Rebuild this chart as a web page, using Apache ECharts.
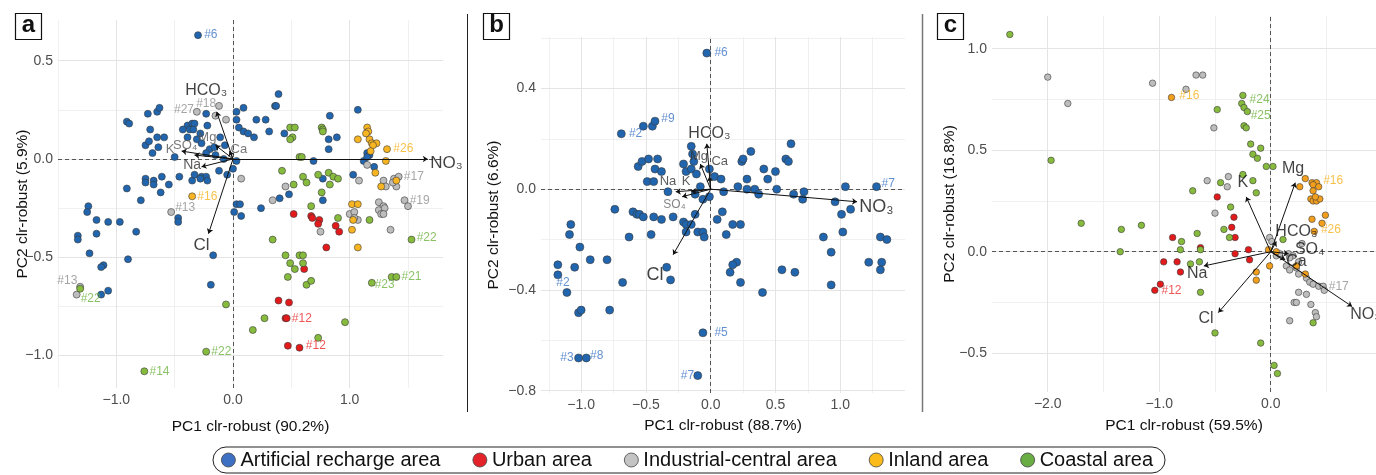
<!DOCTYPE html>
<html><head><meta charset="utf-8">
<script src="https://cdn.jsdelivr.net/npm/echarts@6/dist/echarts.min.js"></script>
<style>html,body{margin:0;padding:0;background:#fff}#chart{width:1376px;height:475px}</style>
</head><body><div id="chart"></div>
<script>
const GROUPS = ['Artificial recharge area', 'Urban area', 'Industrial-central area', 'Inland area', 'Coastal area'];

// ---------- Panel a ----------
const aArtificial = [
[-0.30,0.63],[0.39,0.33],[0.36,0.27],[0.37,0.27],[1.07,0.25],[0.83,0.22],[0.09,0.26],[0.03,0.24],[0.03,0.20],[0.05,0.16],[0.09,0.14],[0.13,0.13],[0.18,0.11],[0.20,0.20],[0.28,0.20],[0.31,0.14],[0.44,0.13],[0.82,0.10],[0.89,0.11],[0.82,0.05],[0.69,-0.01],[1.15,0.03],[1.17,0.02],[1.12,-0.01],[1.15,0.01],[1.21,-0.04],[1.03,-0.08],[0.77,-0.10],[0.48,-0.18],[0.40,-0.20],[0.77,-0.21],
[-0.91,0.19],[-0.89,0.18],[-0.73,0.23],[-0.65,0.24],[-0.63,0.26],[-0.71,0.15],[-0.75,0.07],[-0.72,0.09],[-0.69,0.03],[-0.65,0.11],[-0.59,0.11],[-0.64,0.06],[-0.50,0.01],[-0.39,0.17],[-0.35,0.18],[-0.37,0.15],[-0.33,0.18],[-0.34,0.15],[-0.43,0.15],[-0.22,0.17],[-0.23,0.23],[-0.28,0.13],[-0.39,0.11],[-0.31,0.10],[-0.27,0.08],[-0.20,0.05],[-0.23,0.03],[-0.16,0.06],[-0.07,0.07],[-0.11,0.11],[-0.15,0.02],[-0.08,0.00],
[-0.75,-0.10],[-0.68,-0.11],[-0.68,-0.13],[-0.61,-0.09],[-0.55,-0.13],[-0.75,-0.12],[-0.62,-0.17],[-0.79,-0.21],[-0.91,-0.15],[-0.46,-0.09],[-0.35,-0.11],[-0.33,-0.08],[-0.27,-0.09],[-0.23,-0.09],[-0.28,-0.10],[-0.22,-0.11],[-0.12,-0.06],[-0.05,-0.08],[0.00,-0.05],[0.03,-0.01],
[0.03,-0.23],[0.06,-0.23],[0.01,-0.27],[0.07,-0.29],[0.24,-0.25],[-0.47,-0.30],[-0.47,-0.32],[-0.83,-0.37],[-0.97,-0.32],[-1.07,-0.32],
[-1.24,-0.24],[-1.25,-0.27],[-1.17,-0.31],[-1.17,-0.38],[-1.33,-0.39],[-1.33,-0.41],[-1.23,-0.48],[-0.90,-0.51],[-1.11,-0.54],[-1.13,-0.55],[-1.07,-0.67],[-1.13,-0.69],[-0.17,-0.49],[-0.19,-0.64]
];
const aUrban = [[0.52,-0.28],[0.67,-0.29],[0.68,-0.30],[0.74,-0.31],[0.73,-0.33],[0.88,-0.34],[0.91,-0.37],[0.80,-0.45],[0.61,-0.56],[0.39,-0.72],[0.48,-0.73],[0.45,-0.81],[0.46,-0.81],[0.47,-0.95],[0.57,-0.96]];
const aIndustrial = [[-0.31,0.24],[-0.12,0.27],[-0.15,0.22],[-0.06,0.20],[0.07,-0.10],[0.45,-0.14],[0.34,-0.21],[-0.53,-0.27],[0.75,-0.37],[1.15,-0.03],[1.08,-0.11],[1.29,-0.11],[1.31,-0.14],[1.38,-0.10],[1.42,-0.09],[1.40,-0.14],[1.37,-0.12],[1.47,-0.21],[1.50,-0.24],[1.25,-0.22],[1.29,-0.24],[1.25,-0.26],[1.30,-0.25],[1.27,-0.28],[1.29,-0.28],[1.00,-0.28],[1.04,-0.27],[1.07,-0.31],[1.04,-0.30],[1.35,-0.36],[-1.34,-0.69],[-1.31,-0.65]];
const aInland = [[1.15,0.16],[1.16,0.14],[1.14,0.13],[1.17,0.10],[1.07,0.10],[1.19,0.08],[1.23,0.08],[1.20,0.07],[1.18,0.04],[1.32,0.05],[1.31,-0.01],[1.22,-0.07],[1.27,-0.14],[1.40,-0.11],[1.02,-0.23],[1.07,-0.23],[1.03,-0.31],[1.02,-0.36],[1.07,-0.45],[-0.35,-0.19]];
const aCoastal = [[0.49,0.16],[0.53,0.16],[0.51,0.11],[0.49,0.10],[0.76,0.16],[0.77,0.15],[0.77,0.14],[0.57,0.01],[0.59,0.01],[0.42,-0.06],[0.60,-0.09],[0.63,-0.12],[0.73,-0.08],[0.82,-0.07],[0.86,-0.09],[0.90,-0.10],[0.83,-0.13],[0.76,-0.17],[0.52,-0.13],[0.67,-0.24],[0.90,-0.30],[1.17,-0.31],[0.34,-0.41],[0.45,-0.49],[0.49,-0.53],[0.53,-0.56],[0.57,-0.49],[0.60,-0.49],[0.60,-0.53],[0.47,-0.60],[0.63,-0.64],[0.67,-0.62],[1.53,-0.41],[1.36,-0.60],[1.40,-0.60],[1.19,-0.63],[0.27,-0.81],[0.17,-0.87],[0.96,-0.83],[0.73,-0.91],[-0.23,-0.98],[-0.76,-1.08],[-0.06,-0.74],[-1.31,-0.66]];
// arrows: [variable, tipX, tipY, labelX, labelY]
const aArrows = [['NO₃',1.67,0.00,1.83,-0.02],['HCO₃',-0.14,0.24,-0.23,0.35],['Mg',-0.15,0.07,-0.22,0.11],['Ca',-0.03,0.04,0.05,0.05],['K',-0.44,0.04,-0.54,0.05],['SO₄',-0.33,0.02,-0.41,0.07],['Na',-0.27,-0.04,-0.35,-0.03],['Cl',-0.21,-0.38,-0.27,-0.44]];
// point labels: [text, x, y, group]
const aPointLabels = [['#6',-0.19,0.63,0],['#27',-0.42,0.25,2],['#18',-0.23,0.28,2],['#26',1.46,0.05,3],['#17',1.55,-0.09,2],['#19',1.60,-0.21,2],['#16',-0.22,-0.19,3],['#13',-0.41,-0.25,2],['#22',1.66,-0.40,4],['#13',-1.42,-0.62,2],['#22',-1.22,-0.71,4],['#21',1.53,-0.60,4],['#23',1.30,-0.64,4],['#12',0.59,-0.81,1],['#12',0.71,-0.95,1],['#22',-0.10,-0.98,4],['#14',-0.63,-1.08,4]];
const aXTicks = [-1.0, 0.0, 1.0];
const aYTicks = [-1.0, -0.5, 0.0, 0.5];

// ---------- Panel b ----------
const bArtificial = [
[-0.03,0.54],[-0.69,0.22],[-0.52,0.25],[-0.45,0.25],[-0.43,0.27],[-0.15,0.17],[0.62,0.18],
[-0.56,0.09],[-0.53,0.11],[-0.48,0.12],[-0.41,0.12],[-0.43,0.08],[-0.38,0.07],[-0.49,0.03],[-0.44,0.03],[-0.33,-0.01],
[-0.21,0.10],[-0.19,0.07],[-0.15,0.08],[-0.13,0.11],[-0.14,0.14],[-0.11,0.06],[-0.01,0.08],[0.03,0.05],[0.08,0.04],
[-0.08,0.01],[-0.12,-0.02],[-0.06,-0.04],[-0.01,-0.03],[0.10,-0.01],
[0.21,0.01],[0.28,0.04],[0.28,0.00],[0.34,0.00],[0.37,-0.02],[0.24,0.11],[0.25,0.12],[0.31,0.15],[0.41,0.08],[0.44,0.04],[0.50,0.07],[0.51,0.00],[0.58,0.12],[0.60,0.11],[0.64,-0.02],[0.72,-0.01],[0.71,-0.04],[0.96,-0.05],[1.04,0.01],[1.28,0.01],
[1.08,-0.08],[1.01,-0.10],[0.87,-0.19],[0.93,-0.25],[1.02,-0.17],[1.31,-0.19],[1.36,-0.20],[1.22,-0.29],[1.32,-0.29],[1.31,-0.32],[0.93,-0.38],
[-0.74,-0.08],[-0.60,-0.09],[-0.57,-0.10],[-0.55,-0.10],[-0.52,-0.11],[-0.44,-0.11],[-0.38,-0.12],[-0.29,-0.11],[-0.63,-0.19],[-0.46,-0.18],
[-0.21,-0.13],[-0.19,-0.14],[-0.15,-0.14],[-0.12,-0.10],[-0.19,-0.17],[-0.10,-0.17],[-0.06,-0.17],[-0.05,-0.19],
[0.09,-0.09],[0.05,-0.12],[0.17,-0.14],[0.23,-0.14],[0.12,-0.18],
[-1.08,-0.14],[-1.09,-0.18],[-1.01,-0.23],[-0.93,-0.28],[-0.80,-0.28],[-1.05,-0.31],[-1.18,-0.30],[-1.18,-0.34],[-1.11,-0.41],[-0.68,-0.37],[-0.34,-0.31],[-0.31,-0.36],
[0.20,-0.29],[0.17,-0.30],[0.15,-0.33],[0.23,-0.37],[0.55,-0.32],[0.65,-0.33],[0.40,-0.41],
[-1.02,-0.49],[-1.00,-0.48],[-0.78,-0.48],[-0.06,-0.57],[-1.02,-0.67],[-0.96,-0.67],[-0.10,-0.74]
];
const bArrows = [['NO₃',1.13,-0.05,1.28,-0.07],['HCO₃',-0.03,0.18,-0.01,0.22],['Mg',-0.08,0.10,-0.09,0.13],['Ca',-0.01,0.05,0.07,0.11],['Na',-0.27,-0.01,-0.33,0.03],['K',-0.15,-0.01,-0.19,0.03],['SO₄',-0.22,-0.03,-0.28,-0.06],['Cl',-0.29,-0.26,-0.43,-0.34]];
const bPointLabels = [['#6',0.08,0.54,0],['#9',-0.33,0.28,0],['#2',-0.58,0.22,0],['#7',1.37,0.02,0],['#2',-1.14,-0.37,0],['#5',0.08,-0.57,0],['#3',-1.11,-0.67,0],['#8',-0.88,-0.66,0],['#7',-0.18,-0.74,0]];
const bXTicks = [-1.0, -0.5, 0.0, 0.5, 1.0];
const bYTicks = [-0.8, -0.4, 0.0, 0.4];

// ---------- Panel c ----------
const cUrban = [[-0.48,0.27],[-0.33,0.17],[-0.35,0.12],[-0.32,0.07],[-0.88,0.07],[-0.63,0.02],[-0.96,-0.05],[-0.84,-0.05],[-0.81,-0.10],[-0.20,0.01],[-0.19,-0.04],[-0.32,-0.01],[-0.99,-0.16],[-1.04,-0.19]];
const cIndustrial = [[-2.00,0.86],[-1.82,0.73],[-1.06,0.83],[-0.76,0.80],[-0.67,0.87],[-0.61,0.87],[-0.51,0.61],[-0.57,0.35],[-0.38,0.37],[-0.39,0.32],[-0.50,0.19],[-0.01,0.07],[0.01,0.05],[0.05,-0.02],[0.08,-0.01],[0.16,-0.01],[0.20,-0.02],[0.28,0.04],[0.17,-0.03],[0.25,-0.05],[0.14,-0.07],[0.23,-0.08],[0.17,-0.09],[0.25,-0.11],[0.32,-0.13],[0.35,-0.15],[0.38,-0.16],[0.43,-0.17],[0.47,-0.17],[0.48,-0.19],[0.25,-0.20],[0.32,-0.21],[0.21,-0.25],[0.23,-0.25],[0.36,-0.26],[0.40,-0.30],[0.41,-0.32],[0.17,-0.34]];
const cInland = [[-0.89,0.76],[0.31,0.36],[0.37,0.34],[0.41,0.34],[0.38,0.33],[0.43,0.32],[0.26,0.32],[0.38,0.30],[0.36,0.26],[0.38,0.25],[0.41,0.25],[0.44,0.26],[0.40,0.27],[0.49,0.18],[0.37,0.16],[0.46,0.14],[0.39,0.10],[-0.02,0.01],[0.05,0.00],[-0.13,-0.10],[-0.13,-0.14],[-0.01,-0.07],[0.31,-0.11],[0.23,-0.07]];
const cCoastal = [[-2.34,1.07],[-1.97,0.45],[-0.48,0.70],[-0.25,0.77],[-0.26,0.73],[-0.24,0.71],[-0.21,0.69],[-0.24,0.62],[-0.22,0.61],[-0.18,0.53],[-0.09,0.51],[-0.16,0.48],[-0.12,0.46],[-0.04,0.42],[0.02,0.42],[-0.25,0.38],[-0.16,0.35],[-0.13,0.29],[-0.45,0.34],[-0.70,0.30],[-0.36,0.22],[-0.42,0.11],[-0.37,0.07],[-1.16,0.13],[-1.70,0.14],[-1.34,0.11],[-1.35,0.00],[-0.66,0.09],[-0.80,0.05],[-0.81,0.01],[-0.63,0.01],[-0.64,-0.05],[-0.72,-0.06],[-0.63,-0.20],[-0.50,-0.40],[-0.09,-0.45],[0.03,-0.56],[0.06,-0.60],[0.11,0.06],[0.38,-0.35]];
const cArrows = [['Mg',0.22,0.34,0.20,0.41],['K',-0.22,0.27,-0.25,0.34],['HCO₃',0.05,0.05,0.23,0.10],['SO₄',0.16,-0.01,0.35,0.01],['Ca',0.13,-0.04,0.23,-0.05],['NO₃',0.73,-0.27,0.85,-0.31],['Na',-0.60,-0.07,-0.66,-0.11],['Cl',-0.47,-0.30,-0.58,-0.33]];
const cPointLabels = [['#16',-0.73,0.77,3],['#24',-0.10,0.75,4],['#25',-0.09,0.67,4],['#16',0.56,0.35,3],['#26',0.54,0.11,3],['#17',0.61,-0.17,2],['#12',-0.89,-0.19,1]];
const cXTicks = [-2.0, -1.0, 0.0];
const cYTicks = [-0.5, 0.0, 0.5, 1.0];

// ---------- styling ----------
const FONT = '"Liberation Sans", Arial, Helvetica, sans-serif';
const POINT_COLORS = ['#2065ad', '#e31a1c', '#bdbdbd', '#f8b522', '#86bb3e'];
const LABEL_COLORS = ['#3c74c6', '#ee2c2c', '#8f8f8f', '#f6b21e', '#6db33f'];
const LEGEND_COLORS = ['#3d6fc2', '#e4222a', '#c4c4c4', '#fbbb1a', '#6aad45'];
const CLEAR = 'rgba(0,0,0,0)';

const panels = [
  { grid: {left: 58, top: 20, width: 385, height: 368}, x: [-1.5, 1.8], y: [-1.165, 0.707],
    xTicks: aXTicks, yTicks: aYTicks, xMinor: [-1.5,-0.5,0.5,1.5], yMinor: [-0.75,-0.25,0.25],
    xName: 'PC1 clr-robust (90.2%)', yName: 'PC2 clr-robust (5.9%)', xGap: 31, yGap: 27,
    groups: [aArtificial, aUrban, aIndustrial, aInland, aCoastal], arrows: aArrows, pl: aPointLabels, size: 7,
    inland: '#f8b522',
    lab: {'NO₃':[17,'#111'],'HCO₃':[16,'#111'],'Cl':[17,'#111'],'Na':[14,'#333'],'Mg':[13,'#555'],'Ca':[13,'#555'],'K':[13,'#555'],'SO₄':[13,'#555']} },
  { grid: {left: 541, top: 37, width: 364, height: 356}, x: [-1.31, 1.50], y: [-0.809, 0.604],
    xTicks: bXTicks, yTicks: bYTicks, xMinor: [-1.25,-0.75,-0.25,0.25,0.75,1.25], yMinor: [-0.6,-0.2,0.2,0.6],
    xName: 'PC1 clr-robust (88.7%)', yName: 'PC2 clr-robust (6.6%)', xGap: 25, yGap: 39,
    groups: [bArtificial, [], [], [], []], arrows: bArrows, pl: bPointLabels, size: 8,
    inland: '#f8b522',
    lab: {'NO₃':[18,'#111'],'HCO₃':[16,'#111'],'Cl':[18,'#111'],'Na':[13,'#333'],'Mg':[13,'#333'],'Ca':[13,'#333'],'K':[13,'#333'],'SO₄':[12,'#666']} },
  { grid: {left: 992, top: 16, width: 384, height: 376}, x: [-2.5, 0.944], y: [-0.691, 1.161],
    xTicks: cXTicks, yTicks: cYTicks, xMinor: [-1.5,-0.5,0.5], yMinor: [-0.25,0.25,0.75],
    xName: 'PC1 clr-robust (59.5%)', yName: 'PC2 clr-robust (16.8%)', xGap: 26, yGap: 34,
    groups: [[], cUrban, cIndustrial, cInland, cCoastal], arrows: cArrows, pl: cPointLabels, size: 6.5,
    inland: '#f29f1d',
    lab: {'NO₃':[16,'#111'],'HCO₃':[16,'#111'],'Cl':[16,'#111'],'Na':[16,'#111'],'Mg':[16,'#111'],'Ca':[16,'#111'],'K':[16,'#111'],'SO₄':[16,'#111']} }
];

const fmt = v => (v < 0 ? '\u2212' : '') + Math.abs(v).toFixed(1);

const grids = [], xAxes = [], yAxes = [], series = [];
panels.forEach((p, i) => {
  grids.push(Object.assign({outerBoundsMode: 'none', containLabel: false}, p.grid));
  const common = {
    gridIndex: i, type: 'value', nameLocation: 'middle', nameMoveOverlap: false,
    axisLine: {show: false}, splitLine: {show: false},
    nameTextStyle: {fontSize: 15.5, color: '#111', fontFamily: FONT}
  };
  xAxes.push(Object.assign({}, common, {
    min: p.x[0], max: p.x[1], name: p.xName, nameGap: p.xGap,
    axisTick: {show: true, length: 3, customValues: p.xTicks, lineStyle: {color: '#333'}},
    axisLabel: {customValues: p.xTicks, formatter: fmt, fontSize: 14, color: '#4d4d4d', margin: 5, fontFamily: FONT}
  }));
  yAxes.push(Object.assign({}, common, {
    min: p.y[0], max: p.y[1], name: p.yName, nameGap: p.yGap,
    axisTick: {show: true, length: 3, customValues: p.yTicks, lineStyle: {color: '#333'}},
    axisLabel: {customValues: p.yTicks, formatter: fmt, fontSize: 14, color: '#4d4d4d', margin: 5, fontFamily: FONT}
  }));
  const gl = [];
  p.xMinor.forEach(v => gl.push({xAxis: v, lineStyle: {color: '#f0f0f0', width: 1, type: 'solid'}}));
  p.yMinor.forEach(v => gl.push({yAxis: v, lineStyle: {color: '#f0f0f0', width: 1, type: 'solid'}}));
  p.xTicks.forEach(v => gl.push({xAxis: v, lineStyle: {color: '#e4e4e4', width: 1, type: 'solid'}}));
  p.yTicks.forEach(v => gl.push({yAxis: v, lineStyle: {color: '#e4e4e4', width: 1, type: 'solid'}}));
  gl.push({xAxis: 0, lineStyle: {color: '#555', width: 1, type: [4, 3]}});
  gl.push({yAxis: 0, lineStyle: {color: '#555', width: 1, type: [4, 3]}});
  series.push({
    type: 'scatter', name: 'grid' + i, xAxisIndex: i, yAxisIndex: i, data: [], silent: true, z: 1,
    markLine: {z: 1, silent: true, symbol: ['none', 'none'], label: {show: false}, emphasis: {disabled: true}, animation: false, data: gl}
  });
  p.groups.forEach((d, g) => {
    if (!d.length) return;
    series.push({
      type: 'scatter', name: GROUPS[g], xAxisIndex: i, yAxisIndex: i, data: d, symbolSize: p.size, z: 3, silent: true,
      itemStyle: {color: g === 3 ? p.inland : POINT_COLORS[g], borderColor: '#3a3a3a', borderWidth: 0.6, opacity: 1}
    });
  });
  series.push({
    type: 'scatter', name: 'arrows' + i, xAxisIndex: i, yAxisIndex: i, data: [], silent: true, z: 5,
    markLine: {z: 5, silent: true, symbol: ['none', 'arrow'], symbolSize: 5, label: {show: false}, emphasis: {disabled: true}, animation: false,
      lineStyle: {color: '#111', width: 1, type: 'solid', opacity: 1},
      data: p.arrows.map(a => [{coord: [0, 0]}, {coord: [a[1], a[2]]}])}
  });
  series.push({
    type: 'scatter', name: 'arrowLabels' + i, xAxisIndex: i, yAxisIndex: i, symbolSize: 1, clip: false, silent: true, z: 6,
    itemStyle: {color: CLEAR, borderWidth: 0},
    data: p.arrows.map(a => ({value: [a[3], a[4]], label: {formatter: a[0], fontSize: p.lab[a[0]][0], color: p.lab[a[0]][1]}})),
    label: {show: true, position: 'inside', fontFamily: FONT}
  });
  series.push({
    type: 'scatter', name: 'pointLabels' + i, xAxisIndex: i, yAxisIndex: i, symbolSize: 1, clip: false, silent: true, z: 6,
    itemStyle: {color: CLEAR, borderWidth: 0},
    data: p.pl.map(l => ({value: [l[1], l[2]], label: {formatter: l[0], color: LABEL_COLORS[l[3]]}})),
    label: {show: true, position: 'inside', fontSize: 12, fontFamily: FONT}
  });
});

const letterBox = (x, y, t) => [
  {type: 'rect', shape: {x: x, y: y, width: 26, height: 26}, style: {fill: '#fff', stroke: '#111', lineWidth: 1.2}, z: 10},
  {type: 'text', x: x + 13, y: y + 12, style: {text: t, fontSize: 24, fontWeight: 'bold', fontFamily: FONT, fill: '#111', align: 'center', verticalAlign: 'middle'}, z: 11}
];

const option = {
  animation: false,
  backgroundColor: '#fff',
  textStyle: {fontFamily: FONT},
  grid: grids, xAxis: xAxes, yAxis: yAxes, series: series,
  legend: {
    left: 213, top: 447, selectedMode: false, icon: 'circle', itemWidth: 14, itemHeight: 14, itemGap: 32,
    data: GROUPS.map((g, i) => ({name: g, itemStyle: {color: LEGEND_COLORS[i], borderColor: '#444', borderWidth: 0.8}})),
    textStyle: {fontSize: 20, color: '#111', fontFamily: FONT},
    borderColor: '#222', borderWidth: 1, borderRadius: 14, padding: [3, 12, 3, 8]
  },
  graphic: [
    ...letterBox(15.5, 13.5, 'a'),
    ...letterBox(483.5, 13.5, 'b'),
    ...letterBox(937.5, 13.5, 'c'),
    {type: 'line', shape: {x1: 467.5, y1: 14, x2: 467.5, y2: 412}, style: {stroke: '#222', lineWidth: 1}},
    {type: 'line', shape: {x1: 922.5, y1: 14, x2: 922.5, y2: 412}, style: {stroke: '#777', lineWidth: 1.5}}
  ]
};
const chart = echarts.init(document.getElementById('chart'));
chart.setOption(option);
</script></body></html>
